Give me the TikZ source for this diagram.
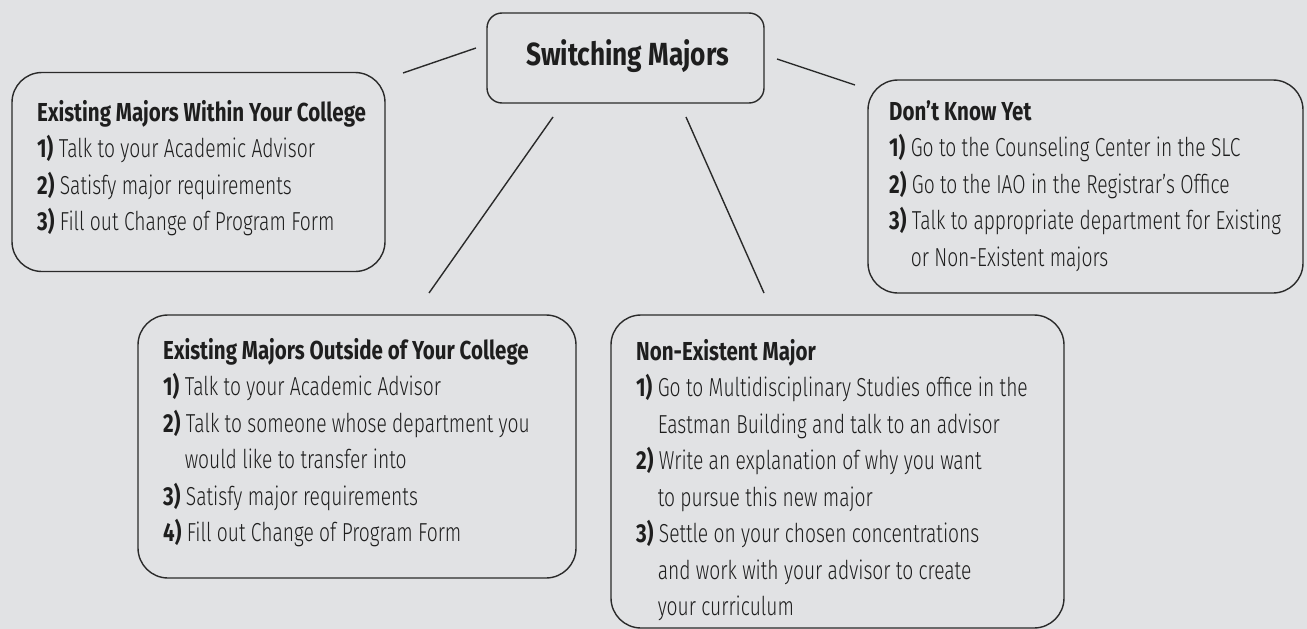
\documentclass[tikz,border=0pt]{standalone}
\usepackage{fontspec}
\setmainfont{Fira Sans Light}[FakeStretch=0.74, BoldFont={Fira Sans Bold}, BoldFeatures={FakeStretch=0.79}]
\newfontfamily\titlefont{Fira Sans Bold}[FakeStretch=0.82]
\definecolor{bg}{HTML}{E1E2E4}
\definecolor{ink}{HTML}{1E1E1E}
\definecolor{edge}{HTML}{2A2A2A}
\newcommand{\nm}[1]{\textbf{#1}~}
\newcommand{\ind}{\hphantom{\textbf{1)}~}}
\begin{document}
\begin{tikzpicture}[x=1pt,y=-1pt,
  box/.style={draw=edge, line width=1.4pt, rounded corners=30pt, fill=bg, inner sep=0pt},
  txt/.style={anchor=north west, inner sep=0pt, align=left, text=ink, font=\fontsize{26}{36.5}\selectfont},
  conn/.style={draw=edge, line width=1.4pt}]
\useasboundingbox[fill=bg] (0,0) rectangle (1307,629);
% boxes
\node[box, rounded corners=15pt, minimum width=277pt, minimum height=90pt] (T) at (625.5,58) {};
\node[text=ink, font=\titlefont\fontsize{32}{36}\selectfont, inner sep=0pt] (Tt) at (627.5,56) {Switching Majors};
\node[box, minimum width=373pt, minimum height=199pt] (L) at (198.5,172) {};
\node[box, minimum width=435pt, minimum height=213pt] (R) at (1085.5,186.5) {};
\node[box, minimum width=438pt, minimum height=263pt] (BL) at (357,446.5) {};
\node[box, minimum width=453pt, minimum height=313pt] (BR) at (837.5,471.5) {};
% texts
\node[txt] (Lt) at (37,100) {\textbf{Existing Majors Within Your College}\\
\nm{1)}Talk to your Academic Advisor\\
\nm{2)}Satisfy major requirements\\
\nm{3)}Fill out Change of Program Form};
\node[txt] (Rt) at (889,100) {\textbf{Don’t Know Yet}\\
\nm{1)}Go to the Counseling Center in the SLC\\
\nm{2)}Go to the IAO in the Registrar’s Office\\
\nm{3)}Talk to appropriate department for Existing\\
\ind or Non-Existent majors};
\node[txt] (BLt) at (163,338) {\textbf{Existing Majors Outside of Your College}\\
\nm{1)}Talk to your Academic Advisor\\
\nm{2)}Talk to someone whose department you\\
\ind would like to transfer into\\
\nm{3)}Satisfy major requirements\\
\nm{4)}Fill out Change of Program Form};
\node[txt] (BRt) at (636,339) {\textbf{Non-Existent Major}\\
\nm{1)}Go to Multidisciplinary Studies office in the\\
\ind Eastman Building and talk to an advisor\\
\nm{2)}Write an explanation of why you want\\
\ind to pursue this new major\\
\nm{3)}Settle on your chosen concentrations\\
\ind and work with your advisor to create\\
\ind your curriculum};
% connectors
\coordinate (c1a) at (403,73);  \coordinate (c1b) at (476,48);
\coordinate (c2a) at (777,59);  \coordinate (c2b) at (855,85);
\coordinate (c3a) at (553,117); \coordinate (c3b) at (429,293);
\coordinate (c4a) at (686,117); \coordinate (c4b) at (764,293);
\draw[conn] (c1a) -- (c1b);
\draw[conn] (c2a) -- (c2b);
\draw[conn] (c3a) -- (c3b);
\draw[conn] (c4a) -- (c4b);
\end{tikzpicture}
\end{document}
